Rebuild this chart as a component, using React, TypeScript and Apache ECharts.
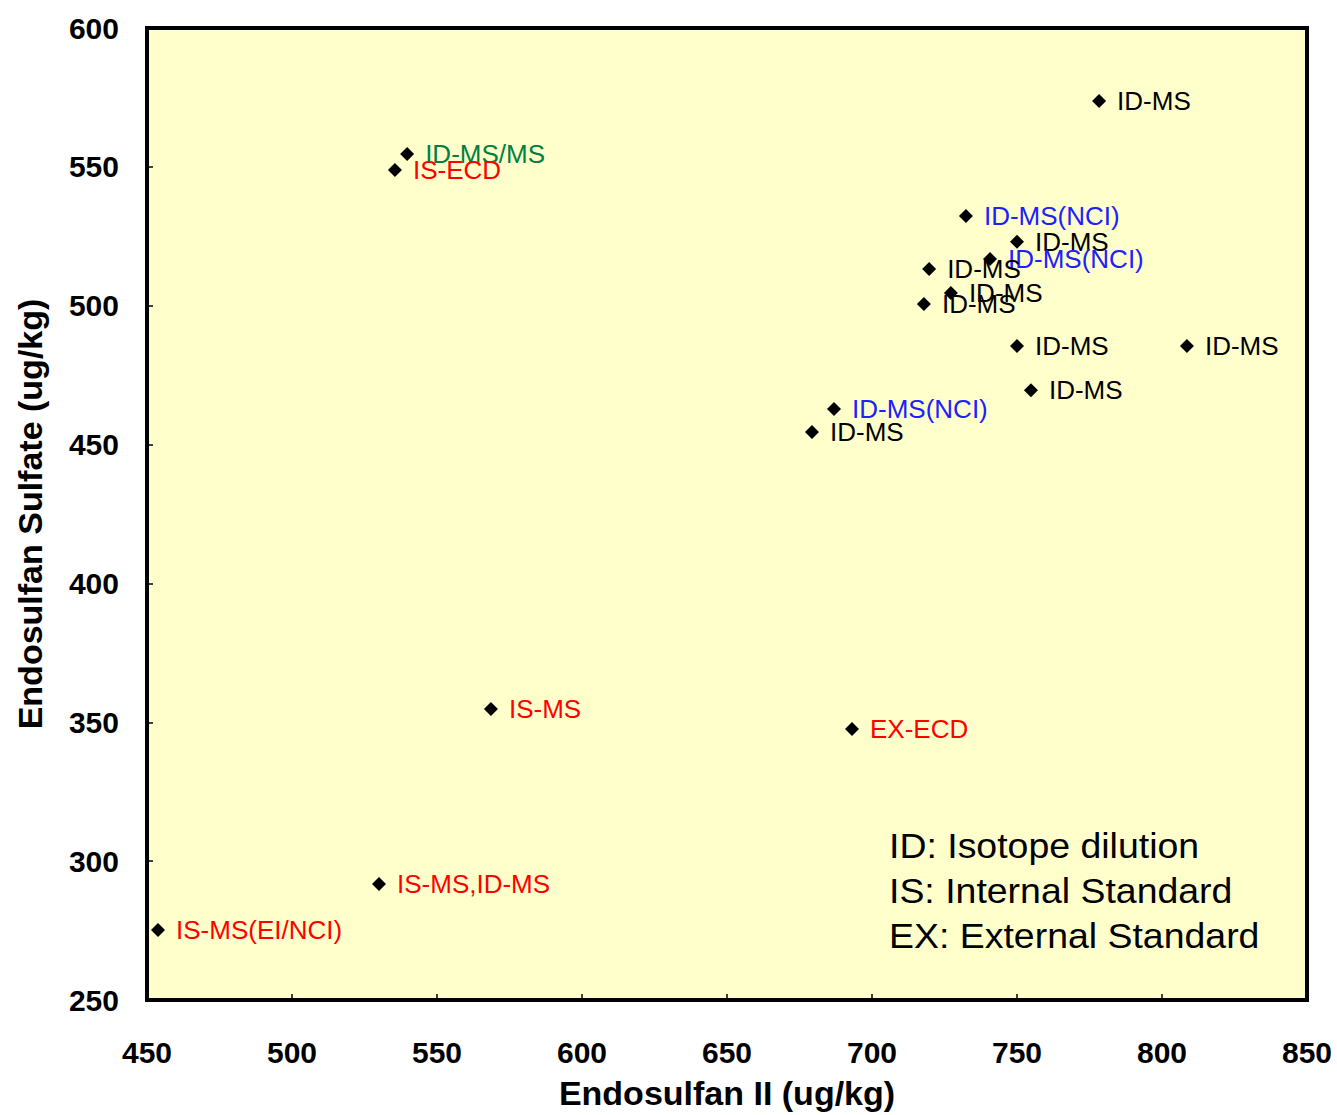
import React, { useEffect, useRef } from "react";
import * as echarts from "echarts";

const xValues = [778.3, 539.7, 535.5, 732.4, 750.0, 740.7, 719.7, 727.2, 717.9, 750.0, 808.6, 754.8, 686.9, 679.3, 568.6, 693.1, 530.0, 453.8];
const yValues = [573.7, 554.6, 548.9, 532.3, 523.0, 516.8, 513.2, 504.6, 500.6, 485.5, 485.5, 469.6, 462.8, 454.5, 354.8, 347.6, 291.8, 275.2];
const pointLabels = ["ID-MS", "ID-MS/MS", "IS-ECD", "ID-MS(NCI)", "ID-MS", "ID-MS(NCI)", "ID-MS", "ID-MS", "ID-MS", "ID-MS", "ID-MS", "ID-MS", "ID-MS(NCI)", "ID-MS", "IS-MS", "EX-ECD", "IS-MS,ID-MS", "IS-MS(EI/NCI)"];
const labelKinds = ["k", "g", "r", "b", "k", "b", "k", "k", "k", "k", "k", "k", "b", "k", "r", "r", "r", "r"];
const kindColors: Record<string, string> = { k: "#000000", g: "#008040", r: "#FF0000", b: "#2020FF" };
const noteLines = ["ID: Isotope dilution", "IS: Internal Standard", "EX: External Standard"];

const FONT = "'Liberation Sans', Arial, sans-serif";

export default function App() {
  const ref = useRef<HTMLDivElement>(null);
  useEffect(() => {
    const chart = echarts.init(ref.current!, null, { renderer: "svg" });
    const data = xValues.map((x, i) => ({
      value: [x, yValues[i]],
      name: pointLabels[i],
      label: { color: kindColors[labelKinds[i]] },
    }));
    chart.setOption({
      animation: false,
      backgroundColor: "#ffffff",
      grid: {
        left: 147,
        right: 30,
        top: 28,
        bottom: 115,
        show: true,
        backgroundColor: "#FFFFCC",
        borderColor: "#000000",
        borderWidth: 4,
      },
      xAxis: {
        type: "value",
        min: 450,
        max: 850,
        interval: 50,
        name: "Endosulfan II (ug/kg)",
        nameLocation: "middle",
        nameGap: 76,
        nameTextStyle: { fontFamily: FONT, fontSize: 34, fontWeight: "bold", color: "#000" },
        axisLine: { show: false },
        axisTick: { show: true, inside: true, length: 6, lineStyle: { color: "#000", width: 1.5 } },
        axisLabel: { margin: 37, fontFamily: FONT, fontSize: 30, fontWeight: "bold", color: "#000" },
        splitLine: { show: false },
      },
      yAxis: {
        type: "value",
        min: 250,
        max: 600,
        interval: 50,
        name: "Endosulfan Sulfate (ug/kg)",
        nameLocation: "middle",
        nameGap: 100,
        nameTextStyle: { fontFamily: FONT, fontSize: 34, fontWeight: "bold", color: "#000" },
        axisLine: { show: false },
        axisTick: { show: true, inside: true, length: 6, lineStyle: { color: "#000", width: 1.5 } },
        axisLabel: { margin: 28, fontFamily: FONT, fontSize: 30, fontWeight: "bold", color: "#000" },
        splitLine: { show: false },
      },
      series: [
        {
          type: "scatter",
          symbol: "diamond",
          symbolSize: 14,
          itemStyle: { color: "#000000", opacity: 1 },
          data,
          label: {
            show: true,
            position: "right",
            distance: 11,
            formatter: "{b}",
            fontFamily: FONT,
            fontSize: 26,
            opacity: 1,
          },
        },
      ],
      graphic: [
        {
          type: "text",
          left: 889,
          top: 823,
          scaleX: 1.07,
          style: {
            text: noteLines.join("\n"),
            font: `35px ${FONT}`,
            lineHeight: 45,
            fill: "#000",
          },
        },
      ],
    });
    return () => chart.dispose();
  }, []);
  return <div ref={ref} style={{ width: 1337, height: 1115, position: "absolute", left: 0, top: 0 }} />;
}
